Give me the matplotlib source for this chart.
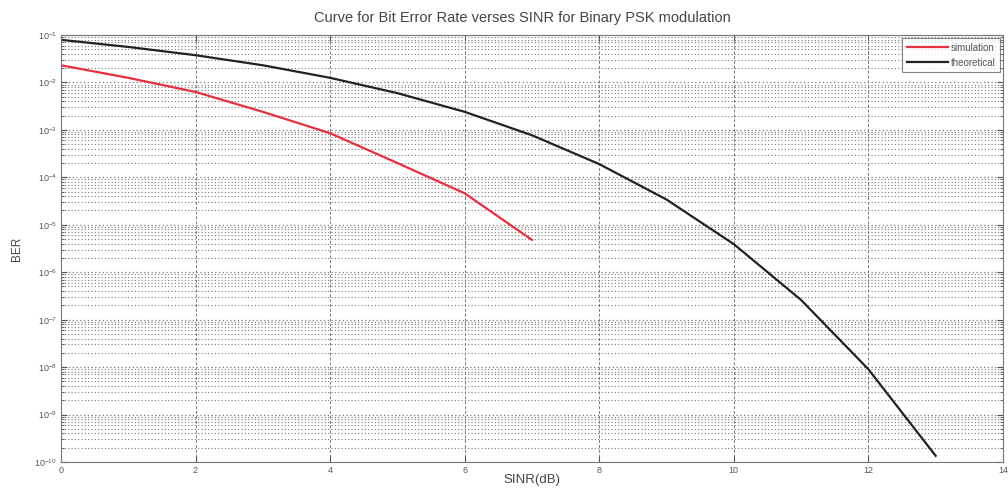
import numpy as np
import matplotlib
matplotlib.use("Agg")
import matplotlib.pyplot as plt
from matplotlib.ticker import LogLocator, FixedLocator, NullFormatter

# SINR points (dB) and bit error rates
sinr_sim = [0, 1, 2, 3, 4, 5, 6, 7]
ber_sim = [2.3e-2, 1.25e-2, 6.3e-3, 2.4e-3, 8.5e-4, 2.0e-4, 4.6e-5, 4.8e-6]

sinr_theory = [0, 1, 2, 3, 4, 5, 6, 7, 8, 9, 10, 11, 12, 13]
ber_theory = [7.9e-2, 5.6e-2, 3.75e-2, 2.3e-2, 1.25e-2, 5.95e-3, 2.4e-3,
              7.7e-4, 1.9e-4, 3.4e-5, 3.9e-6, 2.6e-7, 9.0e-9, 1.35e-10]

x_ticks = [0, 2, 4, 6, 8, 10, 12, 14]
series_labels = ["simulation", "theoretical"]
title_text = "Curve for Bit Error Rate verses SINR for Binary PSK modulation"

plt.rcParams["font.family"] = ["Liberation Sans", "DejaVu Sans"]

fig = plt.figure(figsize=(10.08, 4.88), dpi=100)
ax = fig.add_axes([0.0605, 0.0533, 0.9345, 0.875])

ax.set_yscale("log")
ax.set_xlim(0, 14)
ax.set_ylim(1e-10, 1e-1)

ax.xaxis.set_major_locator(FixedLocator(x_ticks))
ax.yaxis.set_major_locator(LogLocator(base=10, numticks=20))
ax.yaxis.set_minor_locator(LogLocator(base=10, subs=np.arange(2, 10), numticks=20))
ax.yaxis.set_minor_formatter(NullFormatter())

grid_col = "#7a7a7a"
ax.grid(True, axis="x", which="major", color=grid_col, linestyle=(0, (3, 2)), linewidth=0.7)
ax.grid(True, axis="y", which="major", color=grid_col, linestyle=(0, (1, 2)), linewidth=0.9)
ax.grid(True, axis="y", which="minor", color=grid_col, linestyle=(0, (1, 2)), linewidth=0.8)
ax.set_axisbelow(True)

ax.plot(sinr_sim, ber_sim, color="#e8303c", linewidth=1.6, label=series_labels[0])
ax.plot(sinr_theory, ber_theory, color="#222222", linewidth=1.6, label=series_labels[1])

ax.tick_params(axis="both", which="both", direction="in", top=True, right=True,
               colors="#555555", labelcolor="#555555")
ax.tick_params(axis="both", which="major", length=4, labelsize=6.5, pad=3)
ax.tick_params(axis="y", which="minor", length=2)
for s in ax.spines.values():
    s.set_color("#777777")
    s.set_linewidth(0.8)

ax.set_title(title_text, fontsize=10.5, color="#444444", pad=9, x=0.49)
ax.set_xlabel("SINR(dB)", fontsize=9.5, color="#444444", labelpad=-1)
ax.set_ylabel("BER", fontsize=8.5, color="#444444", labelpad=8)

leg = ax.legend(loc="upper right", fontsize=7, frameon=True, fancybox=False,
                handlelength=4.2, borderpad=0.5, labelspacing=0.5,
                borderaxespad=0.3, handletextpad=0.3)
leg.get_frame().set_edgecolor("#666666")
leg.get_frame().set_linewidth(0.8)
for t in leg.get_texts():
    t.set_color("#555555")

fig.savefig("out.png", dpi=100)
